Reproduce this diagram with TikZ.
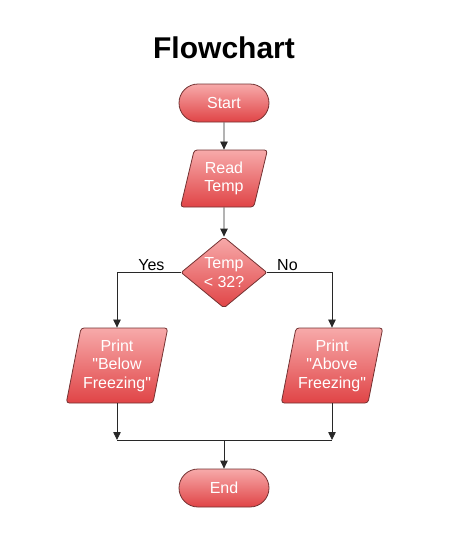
\documentclass[tikz,border=0pt]{standalone}
\usepackage{fontspec}
\setmainfont{Liberation Sans}[Ligatures=TeXOff]
\usetikzlibrary{shapes.geometric,shapes.misc,arrows.meta}
\definecolor{ftop}{RGB}{247,170,170}
\definecolor{fbot}{RGB}{224,68,70}
\definecolor{fedge}{RGB}{115,50,50}
\definecolor{lnc}{RGB}{40,40,40}
\tikzset{
  base/.style={draw=fedge, line width=0.8pt, top color=ftop, bottom color=fbot,
    text=white, font=\fontsize{16}{18.5}\selectfont, align=center, inner sep=0pt},
  term/.style={base, rounded rectangle, minimum width=90pt, minimum height=38pt},
  io/.style={base, trapezium, trapezium left angle=75, trapezium right angle=105,
    trapezium stretches=true, rounded corners=3pt},
  decision/.style={base, diamond, minimum width=86pt, minimum height=71pt, rounded corners=2pt},
  conn/.style={draw=lnc, line width=0.8pt},
  arr/.style={conn, -{Triangle[length=8pt,width=7.5pt]}},
  lbl/.style={text=black, font=\fontsize{16}{18}\selectfont, inner sep=1pt}
}
\begin{document}
\begin{tikzpicture}[x=1pt,y=-1pt]
\useasboundingbox (0,0) rectangle (448,544);
\node[anchor=base, font=\bfseries\fontsize{30}{34}\selectfont] (title) at (224,58) {Flowchart};
\node[term] (start) at (224,103) {Start};
\node[io, minimum width=87pt, minimum height=57pt] (read) at (224,178.5) {Read\\Temp};
\node[decision] (dec) at (224,272.5) {Temp\\< 32?};
\node[io, minimum width=102pt, minimum height=75pt] (below) at (117,365.5) {Print\\"Below\\Freezing"};
\node[io, minimum width=102pt, minimum height=75pt] (above) at (332,365.5) {Print\\"Above\\Freezing"};
\node[term] (end) at (224,488) {End};
\coordinate (jl) at (117,440);
\coordinate (jr) at (332,440);
\coordinate (jm) at (224,440);
\draw[arr] (start) -- (read);
\draw[arr] (read) -- (dec);
\draw[arr] (dec.west) -| node[lbl, pos=0.23, above] {Yes} (below.center |- below.north);
\draw[arr] (dec.east) -| node[lbl, pos=0.155, above] {No} (above.center |- above.north);
\draw[arr] (below.center |- below.south) -- (jl);
\draw[arr] (above.center |- above.south) -- (jr);
\draw[conn] (jl) -- (jr);
\draw[arr] (jm) -- (end);
\end{tikzpicture}
\end{document}
